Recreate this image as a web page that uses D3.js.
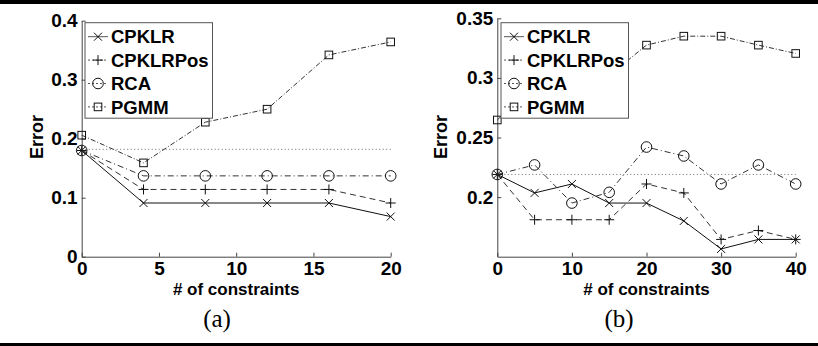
<!DOCTYPE html>
<html>
<head>
	<meta charset="utf-8">
	<title>Error vs # of constraints</title>
	<script src="https://d3js.org/d3.v7.min.js"></script>
	<style>
		body { margin: 0; background: #fff; }
		text { font-family: 'Liberation Sans', Arial, sans-serif; }
	</style>
</head>
<body>
	<div class="chart"></div>

	<script type="text/javascript">

		// 系列名称
		const seriesNames = ['CPKLR', 'CPKLRPos', 'RCA', 'PGMM']

		// (a)
		const xA = [0, 4, 8, 12, 16, 20]
		const cpklrA = [0.18, 0.091, 0.091, 0.091, 0.091, 0.068]
		const cpklrPosA = [0.18, 0.114, 0.114, 0.114, 0.114, 0.091]
		const rcaA = [0.18, 0.137, 0.137, 0.137, 0.137, 0.137]
		const pgmmA = [0.206, 0.159, 0.228, 0.25, 0.342, 0.364]
		const baselineA = 0.182
		const xTicksA = [0, 5, 10, 15, 20]
		const yTicksA = [0, 0.1, 0.2, 0.3, 0.4]

		// (b)
		const xB = [0, 5, 10, 15, 20, 25, 30, 35, 40]
		const cpklrB = [0.219, 0.2035, 0.211, 0.195, 0.195, 0.18, 0.1565, 0.1645, 0.1645]
		const cpklrPosB = [0.219, 0.181, 0.181, 0.181, 0.211, 0.2035, 0.1645, 0.172, 0.1645]
		const rcaB = [0.219, 0.227, 0.195, 0.204, 0.242, 0.2345, 0.211, 0.227, 0.211]
		const pgmmB = [0.2647, 0.295, 0.3, 0.302, 0.3275, 0.335, 0.335, 0.3275, 0.3205]
		const baselineB = 0.219
		const xTicksB = [0, 10, 20, 30, 40]
		const yTicksB = [0.2, 0.25, 0.3, 0.35]

		var width = 818
		var height = 346

		var svg = d3.select('.chart')
			.append('svg')
			.attr('width', width)
			.attr('height', height)

		// 线型和标记
		const styles = [
			{ dash: null, marker: 'x' },
			{ dash: '6,4', marker: '+' },
			{ dash: '6,3,1,3', marker: 'o' },
			{ dash: '5,2,1,2', marker: 's' }
		]

		function drawMarker(g, type, cx, cy) {
			const m = g.append('g').attr('transform', `translate(${cx},${cy})`)
				.attr('fill', 'none').attr('stroke', '#111').attr('stroke-width', 1)
			if (type === 'x') {
				m.append('path').attr('d', 'M-4,-4L4,4M-4,4L4,-4')
			} else if (type === '+') {
				m.append('path').attr('d', 'M-5,0L5,0M0,-5L0,5')
			} else if (type === 'o') {
				m.append('circle').attr('r', 5.3)
			} else {
				m.append('rect').attr('x', -3.8).attr('y', -3.8).attr('width', 7.6).attr('height', 7.6)
			}
		}

		function panel(cfg) {
			const x = d3.scaleLinear().domain(cfg.xDomain).range(cfg.xRange)
			const y = d3.scaleLinear().domain(cfg.yDomain).range(cfg.yRange)
			const g = svg.append('g')

			// 坐标轴
			g.append('g')
				.attr('transform', `translate(0,${cfg.yRange[0]})`)
				.call(d3.axisBottom(x).tickValues(cfg.xTicks).tickSizeInner(-4).tickSizeOuter(0).tickPadding(5).tickFormat(d3.format('')))
			g.append('g')
				.attr('transform', `translate(${cfg.xRange[0]},0)`)
				.call(d3.axisLeft(y).tickValues(cfg.yTicks).tickSizeInner(-4).tickSizeOuter(0).tickPadding(4).tickFormat(d3.format('')))
			g.selectAll('.domain').attr('stroke', '#444')
			g.selectAll('.tick line').attr('stroke', '#444')
			g.selectAll('.tick text')
				.attr('fill', '#000')
				.style('font-size', '19px')
				.style('font-weight', 'bold')
				.style('font-family', "'Liberation Sans', Arial, sans-serif")

			// 虚线基准
			g.append('line')
				.attr('x1', x(cfg.xDomain[0])).attr('x2', x(cfg.xDomain[1]))
				.attr('y1', y(cfg.baseline)).attr('y2', y(cfg.baseline))
				.attr('stroke', '#444').attr('stroke-width', 0.8).attr('stroke-dasharray', '1,2.5')

			const line = d3.line().x((d) => x(d[0])).y((d) => y(d[1]))

			cfg.series.forEach((vals, i) => {
				const pts = cfg.xs.map((v, j) => [v, vals[j]])
				g.append('path')
					.attr('d', line(pts))
					.attr('fill', 'none')
					.attr('stroke', i === 0 ? '#111' : '#333')
					.attr('stroke-width', 1)
					.attr('stroke-dasharray', styles[i].dash)
				pts.forEach((p) => drawMarker(g, styles[i].marker, x(p[0]), y(p[1])))
			})

			// 图例
			const lg = g.append('g').attr('transform', `translate(${cfg.legend[0]},${cfg.legend[1]})`)
			lg.append('rect')
				.attr('width', 127.5).attr('height', 95.5)
				.attr('fill', '#fff').attr('stroke', '#555').attr('stroke-width', 1)
			seriesNames.forEach((name, i) => {
				const cy = 14 + i * 23.4
				lg.append('line')
					.attr('x1', 3).attr('x2', 23).attr('y1', cy).attr('y2', cy)
					.attr('stroke', '#555').attr('stroke-dasharray', styles[i].dash ? '2,2' : null)
				drawMarker(lg, styles[i].marker, 13, cy)
				lg.append('text')
					.attr('x', 26).attr('y', cy).attr('dy', '0.36em')
					.style('font-size', '18.5px').style('font-weight', 'bold')
					.text(name)
			})

			// 轴标题
			g.append('text')
				.attr('x', (cfg.xRange[0] + cfg.xRange[1]) / 2).attr('y', 295)
				.attr('text-anchor', 'middle')
				.style('font-size', '17px').style('font-weight', 'bold')
				.text('# of constraints')
			g.append('text')
				.attr('transform', `translate(${cfg.yLabelX},137) rotate(-90)`)
				.attr('text-anchor', 'middle').attr('dy', '0.36em')
				.style('font-size', '18px').style('font-weight', 'bold')
				.text('Error')

			// 子图标号
			g.append('text')
				.attr('x', cfg.caption[0]).attr('y', 327)
				.attr('text-anchor', 'middle')
				.style('font-family', "'Liberation Serif', 'Times New Roman', serif")
				.style('font-size', '25px')
				.text(cfg.caption[1])
		}

		panel({
			xDomain: [0, 20], xRange: [81.7, 390.7],
			yDomain: [0, 0.4], yRange: [256.7, 20.7],
			xTicks: xTicksA, yTicks: yTicksA,
			xs: xA, series: [cpklrA, cpklrPosA, rcaA, pgmmA],
			baseline: baselineA,
			legend: [85, 22.7],
			yLabelX: 37,
			caption: [217, '(a)']
		})

		panel({
			xDomain: [0, 40], xRange: [497.3, 795.7],
			yDomain: [0.15, 0.35], yRange: [256.7, 18.3],
			xTicks: xTicksB, yTicks: yTicksB,
			xs: xB, series: [cpklrB, cpklrPosB, rcaB, pgmmB],
			baseline: baselineB,
			legend: [501, 22.7],
			yLabelX: 441,
			caption: [619, '(b)']
		})

		// 上下粗线
		svg.append('rect').attr('x', 0).attr('y', 0).attr('width', width).attr('height', 4).attr('fill', '#000')
		svg.append('rect').attr('x', 0).attr('y', 343).attr('width', width).attr('height', 3).attr('fill', '#000')

	</script>
</body>
</html>
